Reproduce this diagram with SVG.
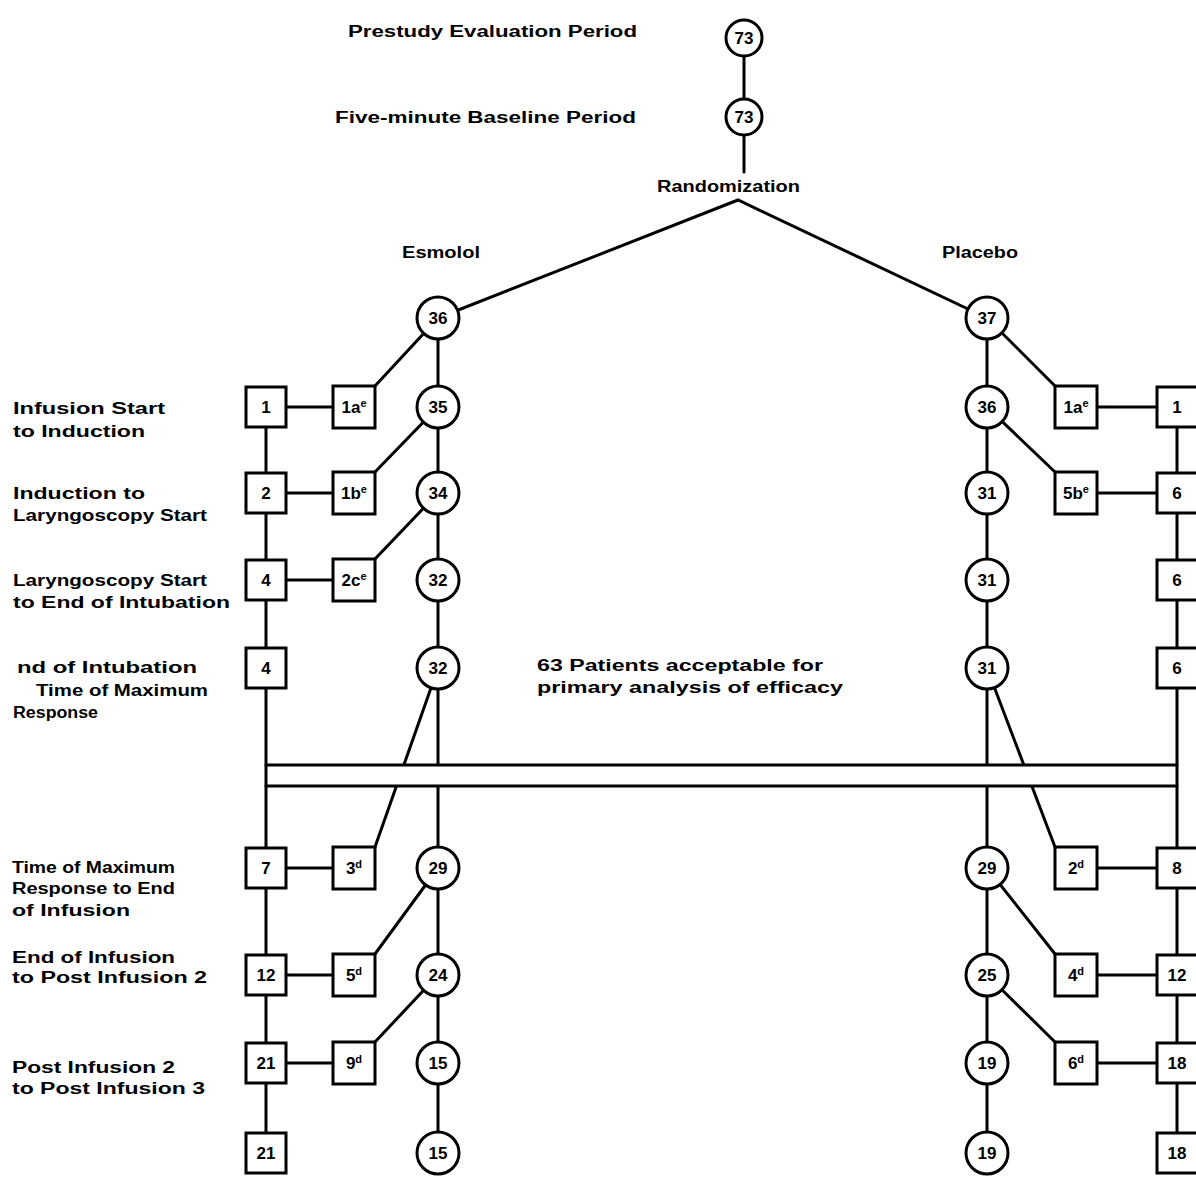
<svg xmlns="http://www.w3.org/2000/svg" width="1196" height="1179" viewBox="0 0 1196 1179">
<style>
.ln{stroke:#000;stroke-width:3;fill:none;stroke-linecap:round}
.nd{fill:#fff;stroke:#000;stroke-width:3}
.t{font-family:"Liberation Sans",Arial,sans-serif;font-weight:bold;font-size:16px;fill:#000}
.n{font-family:"Liberation Sans",Arial,sans-serif;font-weight:bold;font-size:17px;fill:#000;text-anchor:middle}
.sup{font-size:11px}
</style>
<rect width="1196" height="1179" fill="#fff"/>
<g id="labels">
<text class="t" x="348" y="37" textLength="289" lengthAdjust="spacingAndGlyphs">Prestudy Evaluation Period</text>
<text class="t" x="335" y="123" textLength="301" lengthAdjust="spacingAndGlyphs">Five-minute Baseline Period</text>
<text class="t" x="657" y="192" textLength="143" lengthAdjust="spacingAndGlyphs">Randomization</text>
<text class="t" x="402" y="258" textLength="78" lengthAdjust="spacingAndGlyphs">Esmolol</text>
<text class="t" x="942" y="258" textLength="76" lengthAdjust="spacingAndGlyphs">Placebo</text>
<text class="t" x="13" y="414" textLength="152" lengthAdjust="spacingAndGlyphs">Infusion Start</text>
<text class="t" x="13" y="437" textLength="132" lengthAdjust="spacingAndGlyphs">to Induction</text>
<text class="t" x="13" y="499" textLength="132" lengthAdjust="spacingAndGlyphs">Induction to</text>
<text class="t" x="13" y="521" textLength="194" lengthAdjust="spacingAndGlyphs">Laryngoscopy Start</text>
<text class="t" x="13" y="586" textLength="194" lengthAdjust="spacingAndGlyphs">Laryngoscopy Start</text>
<text class="t" x="13" y="608" textLength="217" lengthAdjust="spacingAndGlyphs">to End of Intubation</text>
<text class="t" x="17" y="673" textLength="180" lengthAdjust="spacingAndGlyphs">nd of Intubation</text>
<text class="t" x="36" y="696" textLength="172" lengthAdjust="spacingAndGlyphs">Time of Maximum</text>
<text class="t" x="13" y="718" textLength="85" lengthAdjust="spacingAndGlyphs">Response</text>
<text class="t" x="12" y="873" textLength="163" lengthAdjust="spacingAndGlyphs">Time of Maximum</text>
<text class="t" x="12" y="894" textLength="163" lengthAdjust="spacingAndGlyphs">Response to End</text>
<text class="t" x="12" y="916" textLength="118" lengthAdjust="spacingAndGlyphs">of Infusion</text>
<text class="t" x="12" y="963" textLength="163" lengthAdjust="spacingAndGlyphs">End of Infusion</text>
<text class="t" x="12" y="983" textLength="195" lengthAdjust="spacingAndGlyphs">to Post Infusion 2</text>
<text class="t" x="12" y="1073" textLength="163" lengthAdjust="spacingAndGlyphs">Post Infusion 2</text>
<text class="t" x="12" y="1094" textLength="193" lengthAdjust="spacingAndGlyphs">to Post Infusion 3</text>
<text class="t" x="537" y="671" textLength="286" lengthAdjust="spacingAndGlyphs">63 Patients acceptable for</text>
<text class="t" x="537" y="693" textLength="306" lengthAdjust="spacingAndGlyphs">primary analysis of efficacy</text>
</g>
<g id="connectors">
<line class="ln" x1="744" y1="38" x2="744" y2="117"/>
<line class="ln" x1="744" y1="117" x2="744" y2="172"/>
<polyline class="ln" points="438,318 738,200 987,318"/>
<line class="ln" x1="266" y1="407" x2="266" y2="1153"/>
<line class="ln" x1="438" y1="318" x2="438" y2="1153"/>
<line class="ln" x1="987" y1="318" x2="987" y2="1153"/>
<line class="ln" x1="1177" y1="407" x2="1177" y2="1153"/>
<line class="ln" x1="266" y1="407" x2="354" y2="407"/>
<line class="ln" x1="266" y1="493" x2="354" y2="493"/>
<line class="ln" x1="266" y1="580" x2="354" y2="580"/>
<line class="ln" x1="266" y1="868" x2="354" y2="868"/>
<line class="ln" x1="266" y1="975" x2="354" y2="975"/>
<line class="ln" x1="266" y1="1063" x2="354" y2="1063"/>
<line class="ln" x1="1076" y1="407" x2="1177" y2="407"/>
<line class="ln" x1="1076" y1="493" x2="1177" y2="493"/>
<line class="ln" x1="1076" y1="868" x2="1177" y2="868"/>
<line class="ln" x1="1076" y1="975" x2="1177" y2="975"/>
<line class="ln" x1="1076" y1="1063" x2="1177" y2="1063"/>
<line class="ln" x1="438" y1="318" x2="375" y2="386"/>
<line class="ln" x1="438" y1="407" x2="375" y2="472"/>
<line class="ln" x1="438" y1="493" x2="375" y2="559"/>
<line class="ln" x1="438" y1="668" x2="375" y2="847"/>
<line class="ln" x1="438" y1="868" x2="375" y2="954"/>
<line class="ln" x1="438" y1="975" x2="375" y2="1042"/>
<line class="ln" x1="987" y1="318" x2="1055" y2="386"/>
<line class="ln" x1="987" y1="407" x2="1055" y2="472"/>
<line class="ln" x1="987" y1="668" x2="1055" y2="847"/>
<line class="ln" x1="987" y1="868" x2="1055" y2="954"/>
<line class="ln" x1="987" y1="975" x2="1055" y2="1042"/>
<rect x="268" y="766" width="907" height="19" fill="#fff"/>
<line class="ln" x1="266" y1="765" x2="1177" y2="765"/>
<line class="ln" x1="266" y1="786" x2="1177" y2="786"/>
</g>
<g id="top">
<g id="n-prestudy"><circle class="nd" cx="744" cy="38" r="18"/><text class="n" x="744" y="44">73</text></g>
<g id="n-baseline"><circle class="nd" cx="744" cy="117" r="18"/><text class="n" x="744" y="123">73</text></g>
</g>
<g id="esmolol-circles">
<g id="ec0"><circle class="nd" cx="438" cy="318" r="21"/><text class="n" x="438" y="324">36</text></g>
<g id="ec1"><circle class="nd" cx="438" cy="407" r="21"/><text class="n" x="438" y="413">35</text></g>
<g id="ec2"><circle class="nd" cx="438" cy="493" r="21"/><text class="n" x="438" y="499">34</text></g>
<g id="ec3"><circle class="nd" cx="438" cy="580" r="21"/><text class="n" x="438" y="586">32</text></g>
<g id="ec4"><circle class="nd" cx="438" cy="668" r="21"/><text class="n" x="438" y="674">32</text></g>
<g id="ec5"><circle class="nd" cx="438" cy="868" r="21"/><text class="n" x="438" y="874">29</text></g>
<g id="ec6"><circle class="nd" cx="438" cy="975" r="21"/><text class="n" x="438" y="981">24</text></g>
<g id="ec7"><circle class="nd" cx="438" cy="1063" r="21"/><text class="n" x="438" y="1069">15</text></g>
<g id="ec8"><circle class="nd" cx="438" cy="1153" r="21"/><text class="n" x="438" y="1159">15</text></g>
</g>
<g id="esmolol-squares">
<g id="es1"><rect class="nd" x="246" y="387" width="40" height="40"/><text class="n" x="266" y="413">1</text></g>
<g id="es2"><rect class="nd" x="246" y="473" width="40" height="40"/><text class="n" x="266" y="499">2</text></g>
<g id="es3"><rect class="nd" x="246" y="560" width="40" height="40"/><text class="n" x="266" y="586">4</text></g>
<g id="es4"><rect class="nd" x="246" y="648" width="40" height="40"/><text class="n" x="266" y="674">4</text></g>
<g id="es5"><rect class="nd" x="246" y="848" width="40" height="40"/><text class="n" x="266" y="874">7</text></g>
<g id="es6"><rect class="nd" x="246" y="955" width="40" height="40"/><text class="n" x="266" y="981">12</text></g>
<g id="es7"><rect class="nd" x="246" y="1043" width="40" height="40"/><text class="n" x="266" y="1069">21</text></g>
<g id="es8"><rect class="nd" x="246" y="1133" width="40" height="40"/><text class="n" x="266" y="1159">21</text></g>
</g>
<g id="esmolol-withdrawn">
<g id="ew1"><rect class="nd" x="333" y="386" width="42" height="42"/><text class="n" x="354" y="413">1a<tspan class="sup" dy="-6">e</tspan></text></g>
<g id="ew2"><rect class="nd" x="333" y="472" width="42" height="42"/><text class="n" x="354" y="499">1b<tspan class="sup" dy="-6">e</tspan></text></g>
<g id="ew3"><rect class="nd" x="333" y="559" width="42" height="42"/><text class="n" x="354" y="586">2c<tspan class="sup" dy="-6">e</tspan></text></g>
<g id="ew5"><rect class="nd" x="333" y="847" width="42" height="42"/><text class="n" x="354" y="874">3<tspan class="sup" dy="-6">d</tspan></text></g>
<g id="ew6"><rect class="nd" x="333" y="954" width="42" height="42"/><text class="n" x="354" y="981">5<tspan class="sup" dy="-6">d</tspan></text></g>
<g id="ew7"><rect class="nd" x="333" y="1042" width="42" height="42"/><text class="n" x="354" y="1069">9<tspan class="sup" dy="-6">d</tspan></text></g>
</g>
<g id="placebo-circles">
<g id="pc0"><circle class="nd" cx="987" cy="318" r="21"/><text class="n" x="987" y="324">37</text></g>
<g id="pc1"><circle class="nd" cx="987" cy="407" r="21"/><text class="n" x="987" y="413">36</text></g>
<g id="pc2"><circle class="nd" cx="987" cy="493" r="21"/><text class="n" x="987" y="499">31</text></g>
<g id="pc3"><circle class="nd" cx="987" cy="580" r="21"/><text class="n" x="987" y="586">31</text></g>
<g id="pc4"><circle class="nd" cx="987" cy="668" r="21"/><text class="n" x="987" y="674">31</text></g>
<g id="pc5"><circle class="nd" cx="987" cy="868" r="21"/><text class="n" x="987" y="874">29</text></g>
<g id="pc6"><circle class="nd" cx="987" cy="975" r="21"/><text class="n" x="987" y="981">25</text></g>
<g id="pc7"><circle class="nd" cx="987" cy="1063" r="21"/><text class="n" x="987" y="1069">19</text></g>
<g id="pc8"><circle class="nd" cx="987" cy="1153" r="21"/><text class="n" x="987" y="1159">19</text></g>
</g>
<g id="placebo-withdrawn">
<g id="pw1"><rect class="nd" x="1055" y="386" width="42" height="42"/><text class="n" x="1076" y="413">1a<tspan class="sup" dy="-6">e</tspan></text></g>
<g id="pw2"><rect class="nd" x="1055" y="472" width="42" height="42"/><text class="n" x="1076" y="499">5b<tspan class="sup" dy="-6">e</tspan></text></g>
<g id="pw5"><rect class="nd" x="1055" y="847" width="42" height="42"/><text class="n" x="1076" y="874">2<tspan class="sup" dy="-6">d</tspan></text></g>
<g id="pw6"><rect class="nd" x="1055" y="954" width="42" height="42"/><text class="n" x="1076" y="981">4<tspan class="sup" dy="-6">d</tspan></text></g>
<g id="pw7"><rect class="nd" x="1055" y="1042" width="42" height="42"/><text class="n" x="1076" y="1069">6<tspan class="sup" dy="-6">d</tspan></text></g>
</g>
<g id="placebo-squares">
<g id="ps1"><rect class="nd" x="1157" y="387" width="42" height="40"/><text class="n" x="1177" y="413">1</text></g>
<g id="ps2"><rect class="nd" x="1157" y="473" width="42" height="40"/><text class="n" x="1177" y="499">6</text></g>
<g id="ps3"><rect class="nd" x="1157" y="560" width="42" height="40"/><text class="n" x="1177" y="586">6</text></g>
<g id="ps4"><rect class="nd" x="1157" y="648" width="42" height="40"/><text class="n" x="1177" y="674">6</text></g>
<g id="ps5"><rect class="nd" x="1157" y="848" width="42" height="40"/><text class="n" x="1177" y="874">8</text></g>
<g id="ps6"><rect class="nd" x="1157" y="955" width="42" height="40"/><text class="n" x="1177" y="981">12</text></g>
<g id="ps7"><rect class="nd" x="1157" y="1043" width="42" height="40"/><text class="n" x="1177" y="1069">18</text></g>
<g id="ps8"><rect class="nd" x="1157" y="1133" width="42" height="40"/><text class="n" x="1177" y="1159">18</text></g>
</g>
</svg>
